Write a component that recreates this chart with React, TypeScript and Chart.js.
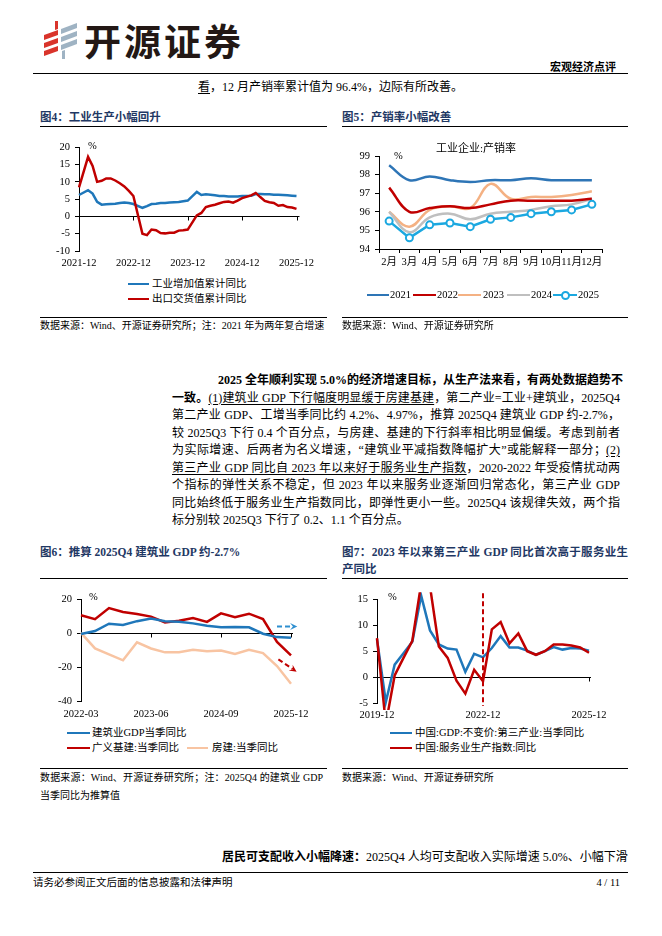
import React, { useEffect, useRef } from 'react';
import { Chart, registerables } from 'chart.js';
Chart.register(...registerables);

const SERIF = "'Liberation Serif','Times New Roman','Noto Sans CJK SC',serif";
const NAVY = '#1F3864';
const BLUE = '#1F77BA';
const RED = '#C00000';

// ===== 图4：工业生产小幅回升（月度，1月缺失） =====
const fig4Months = [
  '2021-12',
  '2022-01','2022-02','2022-03','2022-04','2022-05','2022-06','2022-07','2022-08','2022-09','2022-10','2022-11','2022-12',
  '2023-01','2023-02','2023-03','2023-04','2023-05','2023-06','2023-07','2023-08','2023-09','2023-10','2023-11','2023-12',
  '2024-01','2024-02','2024-03','2024-04','2024-05','2024-06','2024-07','2024-08','2024-09','2024-10','2024-11','2024-12',
  '2025-01','2025-02','2025-03','2025-04','2025-05','2025-06','2025-07','2025-08','2025-09','2025-10','2025-11','2025-12',
];
const fig4TickLabels = ['2021-12', '2022-12', '2023-12', '2024-12', '2025-12'];
const fig4IndustryYoY = [
  6.2,
  null, 7.6, 6.6, 4.2, 3.4, 3.5, 3.6, 3.7, 3.9, 4.0, 3.9, 3.6,
  null, 2.5, 3.0, 3.6, 3.7, 3.9, 3.9, 4.0, 4.1, 4.2, 4.4, 4.6,
  null, 7.1, 6.2, 6.4, 6.3, 6.1, 5.9, 5.9, 5.8, 5.8, 5.8, 5.9,
  null, 6.0, 6.5, 6.5, 6.4, 6.4, 6.3, 6.3, 6.2, 6.1, 6.0, 5.9,
];
const fig4ExportDeliveryYoY = [
  8.4,
  null, 17.2, 14.6, 10.0, 10.3, 11.0, 11.0, 10.4, 9.6, 8.7, 7.4, 5.9,
  null, -5.0, -5.4, -3.8, -4.0, -4.8, -4.9, -4.7, -4.7, -4.1, -4.0, -3.8,
  null, 0.3, 1.0, 2.7, 3.1, 3.4, 3.8, 4.2, 4.3, 4.0, 4.6, 5.3,
  null, 6.1, 6.8, 5.6, 4.5, 4.1, 3.9, 3.1, 3.3, 2.7, 2.6, 2.2,
];

// ===== 图5：产销率小幅改善 =====
const fig5Months = ['2月', '3月', '4月', '5月', '6月', '7月', '8月', '9月', '10月', '11月', '12月'];
const rate2021 = [98.5, 97.7, 97.9, 97.7, 97.6, 97.7, 97.7, 97.8, 97.7, 97.7, 97.7];
const rate2022 = [97.3, 96.0, 96.2, 96.3, 96.2, 96.4, 96.6, 96.6, 96.6, 96.6, 96.7];
const rate2023 = [96.0, 95.2, 96.1, 96.3, 96.2, 97.5, 96.7, 96.8, 96.8, 96.9, 97.1];
const rate2024 = [96.0, 94.9, 95.7, 95.9, 95.6, 95.9, 96.0, 96.1, 96.3, 96.4, 96.7];
const rate2025 = [95.5, 94.6, 95.3, 95.4, 95.2, 95.6, 95.7, 95.9, 96.0, 96.1, 96.4];

// ===== 图6：推算 2025Q4 建筑业 GDP =====
const fig6Quarters = [
  '2022-03', '2022-06', '2022-09', '2022-12', '2023-03', '2023-06', '2023-09', '2023-12',
  '2024-03', '2024-06', '2024-09', '2024-12', '2025-03', '2025-06', '2025-09', '2025-12',
];
const fig6TickLabels = ['2022-03', '2023-06', '2024-09', '2025-12'];
const constructionGdpYoY = [-0.5, 1.3, 5.6, 4.8, 7.1, 8.7, 7.1, 6.7, 5.8, 4.4, 3.5, 3.7, 3.5, -0.3, -2.3, -2.7];
const infraYoY = [10.6, 8.3, 14.8, 12.5, 11.3, 9.8, 6.3, 7.3, 9.0, 6.7, 11.7, 9.4, 11.5, 8.3, -5.2, -13.1];
const housingYoY = [0.2, -9.0, -12.5, -16.0, -5.4, -9.0, -11.3, -11.3, -9.8, -10.6, -10.2, -12.3, -9.8, -11.7, -19.4, -29.8];

// ===== 图7：第三产业 GDP vs 服务业生产指数 =====
const fig7Quarters = [
  '2019-12', '2020-03', '2020-06', '2020-09', '2020-12', '2021-03', '2021-06', '2021-09', '2021-12',
  '2022-03', '2022-06', '2022-09', '2022-12', '2023-03', '2023-06', '2023-09', '2023-12',
  '2024-03', '2024-06', '2024-09', '2024-12', '2025-03', '2025-06', '2025-09', '2025-12',
];
const fig7TickLabels = ['2019-12', '2022-12', '2025-12'];
const fig7Marker = '2022-12';
const tertiaryGdpYoY = [7.3, -4.8, 2.4, 4.6, 6.8, 15.7, 9.0, 6.3, 5.5, 5.3, 1.0, 4.5, 3.8, 5.6, 7.9, 5.7, 5.7, 5.1, 4.3, 5.0, 5.8, 5.3, 5.6, 5.5, 5.1];
const serviceIndexYoY = [7.5, -9.0, 0.3, 3.7, 7.0, 18.0, 17.5, 5.9, 3.7, -0.7, -3.2, 1.4, -0.8, 9.2, 10.6, 6.5, 8.4, 5.0, 4.3, 5.0, 6.3, 6.3, 6.1, 5.7, 4.7];

// ---------- chart helpers ----------
const tickFont = { family: SERIF, size: 10.5 };

const yLin = (min: number, max: number, step: number, width: number) => ({
  min,
  max,
  ticks: { stepSize: step, color: '#000', font: tickFont, padding: 5 },
  border: { display: true, color: '#000', width: 1 },
  grid: { drawOnChartArea: false, drawTicks: true, tickLength: 4, color: '#000' },
  afterFit: (s: any) => { s.width = width; },
});

const xCat = (labels: string[], shown: string[], height: number, pad: number) => ({
  type: 'category',
  offset: false,
  grid: { display: false, drawTicks: false },
  border: { display: false },
  ticks: {
    autoSkip: false,
    maxRotation: 0,
    minRotation: 0,
    padding: pad,
    color: '#000',
    font: tickFont,
    callback: (_v: any, i: number) => (shown.includes(labels[i]) ? labels[i] : ''),
  },
  afterFit: (s: any) => { s.height = height; },
});

const zeroAxis = (labels: string[], shown: string[], extend: number) => ({
  id: 'zeroAxis',
  beforeDatasetsDraw(chart: any) {
    const { ctx, chartArea, scales } = chart;
    const y = Math.round(scales.y.getPixelForValue(0)) + 0.5;
    ctx.save();
    ctx.strokeStyle = '#000';
    ctx.lineWidth = 1;
    ctx.beginPath();
    ctx.moveTo(chartArea.left, y);
    ctx.lineTo(chartArea.right + extend, y);
    shown.forEach((l) => {
      const i = labels.indexOf(l);
      if (i <= 0) return;
      const x = Math.round(scales.x.getPixelForValue(i)) + 0.5;
      ctx.moveTo(x, y);
      ctx.lineTo(x, y + 4);
    });
    ctx.stroke();
    ctx.restore();
  },
});

const baseOptions = (padding: any) => ({
  responsive: false,
  animation: false,
  layout: { padding },
  plugins: { legend: { display: false }, tooltip: { enabled: false } },
  elements: { point: { radius: 0 } },
});

function cfg4(): any {
  return {
    type: 'line',
    data: {
      labels: fig4Months,
      datasets: [
        { label: '工业增加值累计同比', data: fig4IndustryYoY, borderColor: BLUE, borderWidth: 2.5, pointRadius: 0, spanGaps: true, tension: 0, order: 1 },
        { label: '出口交货值累计同比', data: fig4ExportDeliveryYoY, borderColor: RED, borderWidth: 2.5, pointRadius: 0, spanGaps: true, tension: 0, order: 0 },
      ],
    },
    options: {
      ...baseOptions({ top: 9, right: 23, left: 0, bottom: 0 }),
      scales: { x: xCat(fig4Months, fig4TickLabels, 21, 6), y: yLin(-10, 20, 5, 49) },
    },
    plugins: [zeroAxis(fig4Months, fig4TickLabels, 3)],
  };
}

function cfg5(): any {
  const mk = (label: string, data: number[], color: string, tension: number, extra: any = {}) => ({
    label, data, borderColor: color, backgroundColor: color, borderWidth: 2.5, pointRadius: 0, tension, ...extra,
  });
  return {
    type: 'line',
    data: {
      labels: fig5Months,
      datasets: [
        mk('2025', rate2025, '#1BA8E0', 0, { pointRadius: 3.5, pointBackgroundColor: '#fff', pointBorderColor: '#1BA8E0', pointBorderWidth: 2, order: 0 }),
        mk('2021', rate2021, '#2E75B6', 0.4, { order: 1 }),
        mk('2022', rate2022, RED, 0.4, { order: 2 }),
        mk('2024', rate2024, '#BFBFBF', 0.4, { order: 3 }),
        mk('2023', rate2023, '#F4B183', 0.4, { order: 4 }),
      ],
    },
    options: {
      ...baseOptions({ top: 16, right: 23, left: 0, bottom: 0 }),
      scales: {
        x: {
          type: 'category',
          offset: true,
          grid: { offset: true, drawOnChartArea: false, drawTicks: true, tickLength: 4, color: '#000' },
          border: { display: true, color: '#000', width: 1 },
          ticks: { autoSkip: false, maxRotation: 0, padding: 3, color: '#000', font: tickFont },
          afterFit: (s: any) => { s.height = 26; },
        },
        y: yLin(94, 99, 1, 54),
      },
    },
  };
}

function cfg6(): any {
  const arrows = {
    id: 'trendArrows',
    afterDatasetsDraw(chart: any) {
      const { ctx, scales } = chart;
      const draw = (x0: number, y0: number, x1: number, y1: number, color: string) => {
        const px0 = scales.x.getPixelForValue(x0), py0 = scales.y.getPixelForValue(y0);
        const px1 = scales.x.getPixelForValue(x1), py1 = scales.y.getPixelForValue(y1);
        const ang = Math.atan2(py1 - py0, px1 - px0);
        const head = 8;
        ctx.save();
        ctx.strokeStyle = color;
        ctx.fillStyle = color;
        ctx.lineWidth = 2;
        ctx.setLineDash([5, 3]);
        ctx.beginPath();
        ctx.moveTo(px0, py0);
        ctx.lineTo(px1 - Math.cos(ang) * head * 0.6, py1 - Math.sin(ang) * head * 0.6);
        ctx.stroke();
        ctx.setLineDash([]);
        ctx.beginPath();
        ctx.moveTo(px1, py1);
        ctx.lineTo(px1 - head * Math.cos(ang - 0.45), py1 - head * Math.sin(ang - 0.45));
        ctx.lineTo(px1 - head * 0.55 * Math.cos(ang), py1 - head * 0.55 * Math.sin(ang));
        ctx.lineTo(px1 - head * Math.cos(ang + 0.45), py1 - head * Math.sin(ang + 0.45));
        ctx.closePath();
        ctx.fill();
        ctx.restore();
      };
      draw(14.0, 4.0, 15.45, 4.0, '#2E8FD0');
      draw(14.1, -15.4, 15.4, -22.7, RED);
    },
  };
  return {
    type: 'line',
    data: {
      labels: fig6Quarters,
      datasets: [
        { label: '建筑业GDP当季同比', data: constructionGdpYoY, borderColor: BLUE, borderWidth: 2.5, pointRadius: 0, tension: 0, order: 0 },
        { label: '广义基建:当季同比', data: infraYoY, borderColor: RED, borderWidth: 2.5, pointRadius: 0, tension: 0, order: 1 },
        { label: '房建:当季同比', data: housingYoY, borderColor: '#F8C4A2', borderWidth: 2.5, pointRadius: 0, tension: 0, order: 2 },
      ],
    },
    options: {
      ...baseOptions({ top: 9, right: 29, left: 0, bottom: 0 }),
      scales: { x: xCat(fig6Quarters, fig6TickLabels, 22, 7), y: yLin(-40, 20, 20, 51) },
    },
    plugins: [zeroAxis(fig6Quarters, fig6TickLabels, 2), arrows],
  };
}

function cfg7(): any {
  const marker = {
    id: 'markerLine',
    afterDatasetsDraw(chart: any) {
      const { ctx, chartArea, scales } = chart;
      const x = scales.x.getPixelForValue(fig7Quarters.indexOf(fig7Marker));
      ctx.save();
      ctx.strokeStyle = RED;
      ctx.lineWidth = 2;
      ctx.setLineDash([5, 3]);
      ctx.beginPath();
      ctx.moveTo(x, chartArea.top - 6);
      ctx.lineTo(x, chartArea.bottom + 3);
      ctx.stroke();
      ctx.restore();
    },
  };
  return {
    type: 'line',
    data: {
      labels: fig7Quarters,
      datasets: [
        { label: '中国:GDP:不变价:第三产业:当季同比', data: tertiaryGdpYoY, borderColor: BLUE, borderWidth: 2.5, pointRadius: 0, tension: 0, order: 1, clip: 7 },
        { label: '中国:服务业生产指数:同比', data: serviceIndexYoY, borderColor: RED, borderWidth: 2.5, pointRadius: 0, tension: 0, order: 0, clip: 7 },
      ],
    },
    options: {
      ...baseOptions({ top: 9, right: 36, left: 0, bottom: 0 }),
      scales: { x: xCat(fig7Quarters, fig7TickLabels, 20, 6), y: yLin(-5, 15, 5, 52) },
    },
    plugins: [zeroAxis(fig7Quarters, fig7TickLabels, 2), marker],
  };
}

// ---------- layout helpers ----------
const T = (p: any) => (
  <div
    style={{
      position: 'absolute',
      left: p.right !== undefined ? undefined : p.x,
      right: p.right !== undefined ? 662 - p.right : undefined,
      top: p.y - 10,
      height: 20,
      lineHeight: '20px',
      fontSize: p.s || 12,
      fontWeight: p.bold ? 700 : 400,
      color: p.color || '#000',
      whiteSpace: 'nowrap',
      width: p.w,
      overflow: p.clip ? 'hidden' : undefined,
      textAlign: p.justify ? 'justify' : 'left',
      textAlignLast: p.justify ? 'justify' : undefined,
      fontFamily: SERIF,
    } as any}
  >
    {p.children}
  </div>
);

const HL = (p: { x: number; y: number; w: number; c?: string; t?: number }) => (
  <div style={{ position: 'absolute', left: p.x, top: p.y, width: p.w, height: 0, borderTop: `${p.t || 1}px solid ${p.c || '#000'}` }} />
);

const LegLine = (p: { x: number; y: number; w: number; c: string; marker?: boolean }) => (
  <div style={{ position: 'absolute', left: p.x, top: p.y - 1, width: p.w, height: 0, borderTop: `2.5px solid ${p.c}` }}>
    {p.marker && (
      <div style={{ position: 'absolute', left: p.w / 2 - 4.5, top: -5.5, width: 5, height: 5, borderRadius: '50%', border: `2px solid ${p.c}`, background: '#fff' }} />
    )}
  </div>
);

const U = (p: any) => <span style={{ textDecoration: 'underline', textUnderlineOffset: '2px' }}>{p.children}</span>;

const PARA_Y = 380;
const PARA_STEP = 17.5;

export default function App() {
  const r4 = useRef<HTMLCanvasElement>(null);
  const r5 = useRef<HTMLCanvasElement>(null);
  const r6 = useRef<HTMLCanvasElement>(null);
  const r7 = useRef<HTMLCanvasElement>(null);

  useEffect(() => {
    const charts = [
      new Chart(r4.current as HTMLCanvasElement, cfg4()),
      new Chart(r5.current as HTMLCanvasElement, cfg5()),
      new Chart(r6.current as HTMLCanvasElement, cfg6()),
      new Chart(r7.current as HTMLCanvasElement, cfg7()),
    ];
    return () => charts.forEach((c) => c.destroy());
  }, []);

  const cv = (left: number, top: number) => ({ position: 'absolute' as const, left, top });
  const py = (k: number) => PARA_Y + PARA_STEP * k;

  return (
    <div style={{ position: 'absolute', left: 0, top: 0, width: 662, height: 936, background: '#fff', fontFamily: SERIF, color: '#000', overflow: 'hidden' }}>
      {/* header logo */}
      <svg style={{ position: 'absolute', left: 44, top: 21 }} width={36} height={38} viewBox="0 0 36 38">
        <polygon points="11,0 14,0 14,8 11,9" fill="#D9342B" />
        <polygon points="0,14 14,9 14,14 0,19" fill="#D9342B" />
        <polygon points="0,22 14,17 14,22 0,27" fill="#D9342B" />
        <polygon points="0,30 14,25 14,30 0,35" fill="#D9342B" />
        <polygon points="17,8 33,2 33,7 17,13" fill="#9FB3C3" />
        <polygon points="17,16 33,10 33,15 17,21" fill="#9FB3C3" />
        <polygon points="17,24 33,18 33,23 17,29" fill="#9FB3C3" />
        <polygon points="18,30 21,29 21,38 18,38" fill="#9FB3C3" />
      </svg>
      <div style={{ position: 'absolute', left: 84, top: 19, fontSize: 37, fontWeight: 700, letterSpacing: 3, fontFamily: "'Noto Sans CJK SC',sans-serif", color: '#231815', lineHeight: '42px' }}>开源证券</div>
      <T right={616} y={67} s={11} bold>宏观经济点评</T>
      <HL x={33} y={73} w={595} t={1.5} />

      <T x={198} y={87}><U>看</U>，12 月产销率累计值为 96.4%，边际有所改善。</T>

      {/* fig 4 / 5 titles */}
      <T x={40} y={117} s={11.5} bold color={NAVY}>图4：工业生产小幅回升</T>
      <HL x={40} y={126} w={287} />
      <T x={342} y={117} s={11.5} bold color={NAVY}>图5：产销率小幅改善</T>
      <HL x={342} y={126} w={286} />

      <canvas ref={r4} width={290} height={136} style={cv(30, 136)} />
      <T x={88} y={146} s={10.5}>%</T>
      <LegLine x={128} y={284} w={21} c={BLUE} />
      <T x={152} y={284} s={10.5}>工业增加值累计同比</T>
      <LegLine x={128} y={299} w={21} c={RED} />
      <T x={152} y={299} s={10.5}>出口交货值累计同比</T>
      <HL x={40} y={317} w={287} />
      <T x={40} y={326} s={10} w={287} clip>数据来源：Wind、开源证券研究所；注：2021 年为两年复合增速</T>

      <canvas ref={r5} width={300} height={135} style={cv(325, 140)} />
      <T x={436} y={148} s={11}>工业企业:产销率</T>
      <T x={394} y={156} s={10.5}>%</T>
      <LegLine x={367} y={295} w={22} c="#2E75B6" />
      <T x={390} y={295} s={10.5}>2021</T>
      <LegLine x={413} y={295} w={23} c={RED} />
      <T x={437} y={295} s={10.5}>2022</T>
      <LegLine x={458} y={295} w={23} c="#F4B183" />
      <T x={483} y={295} s={10.5}>2023</T>
      <LegLine x={507} y={295} w={23} c="#BFBFBF" />
      <T x={531} y={295} s={10.5}>2024</T>
      <LegLine x={553} y={295} w={24} c="#1BA8E0" marker />
      <T x={578} y={295} s={10.5}>2025</T>
      <HL x={342} y={317} w={286} />
      <T x={342} y={326} s={10}>数据来源：Wind、开源证券研究所</T>

      {/* paragraph */}
      <T x={218} y={py(0)} w={402} justify bold>2025 全年顺利实现 5.0%的经济增速目标，从生产法来看，有两处数据趋势不</T>
      <T x={172} y={py(1)} w={448} justify><b>一致。</b><U>(1)建筑业 GDP 下行幅度明显缓于房建基建</U>，第二产业=工业+建筑业，2025Q4</T>
      <T x={172} y={py(2)} w={448} justify>第二产业 GDP、工增当季同比约 4.2%、4.97%，推算 2025Q4 建筑业 GDP 约-2.7%，</T>
      <T x={172} y={py(3)} w={448} justify>较 2025Q3 下行 0.4 个百分点，与房建、基建的下行斜率相比明显偏缓。考虑到前者</T>
      <T x={172} y={py(4)} w={448} justify>为实际增速、后两者为名义增速，“建筑业平减指数降幅扩大”或能解释一部分；<U>(2)</U></T>
      <T x={172} y={py(5)} w={448} justify><U>第三产业 GDP 同比自 2023 年以来好于服务业生产指数</U>，2020-2022 年受疫情扰动两</T>
      <T x={172} y={py(6)} w={448} justify>个指标的弹性关系不稳定，但 2023 年以来服务业逐渐回归常态化，第三产业 GDP</T>
      <T x={172} y={py(7)} w={448} justify>同比始终低于服务业生产指数同比，即弹性更小一些。2025Q4 该规律失效，两个指</T>
      <T x={172} y={py(8)}>标分别较 2025Q3 下行了 0.2、1.1 个百分点。</T>

      {/* fig 6 / 7 titles */}
      <T x={40} y={552} s={11.5} bold color={NAVY}>图6：推算 2025Q4 建筑业 GDP 约-2.7%</T>
      <HL x={40} y={578} w={287} />
      <T x={342} y={552} s={11.5} w={286} justify bold color={NAVY}>图7：2023 年以来第三产业 GDP 同比首次高于服务业生</T>
      <T x={342} y={569} s={11.5} bold color={NAVY}>产同比</T>
      <HL x={342} y={578} w={286} />

      <canvas ref={r6} width={290} height={135} style={cv(30, 588)} />
      <T x={89} y={597} s={10.5}>%</T>
      <LegLine x={67} y={733} w={23} c={BLUE} />
      <T x={92} y={733} s={10.5}>建筑业GDP当季同比</T>
      <LegLine x={67} y={748} w={23} c={RED} />
      <T x={92} y={748} s={10.5}>广义基建:当季同比</T>
      <LegLine x={187} y={748} w={21} c="#F8C4A2" />
      <T x={212} y={748} s={10.5}>房建:当季同比</T>
      <HL x={40} y={768} w={287} />
      <T x={40} y={778} s={10} w={283} justify>数据来源：Wind、开源证券研究所；注：2025Q4 的建筑业 GDP</T>
      <T x={40} y={796} s={10}>当季同比为推算值</T>

      <canvas ref={r7} width={300} height={135} style={cv(325, 588)} />
      <T x={388} y={597} s={10.5}>%</T>
      <LegLine x={390} y={733} w={22} c={BLUE} />
      <T x={415} y={733} s={10.5}>中国:GDP:不变价:第三产业:当季同比</T>
      <LegLine x={390} y={748} w={22} c={RED} />
      <T x={415} y={748} s={10.5}>中国:服务业生产指数:同比</T>
      <HL x={342} y={768} w={286} />
      <T x={342} y={778} s={10}>数据来源：Wind、开源证券研究所</T>

      {/* bottom */}
      <T x={222} y={857} w={398} justify><b>居民可支配收入小幅降速：</b>2025Q4 人均可支配收入实际增速 5.0%、小幅下滑</T>
      <HL x={33} y={872} w={595} t={1.5} />
      <T x={33} y={883} s={10.5}>请务必参阅正文后面的信息披露和法律声明</T>
      <T right={620} y={883} s={10.5}>4 / 11</T>
    </div>
  );
}
